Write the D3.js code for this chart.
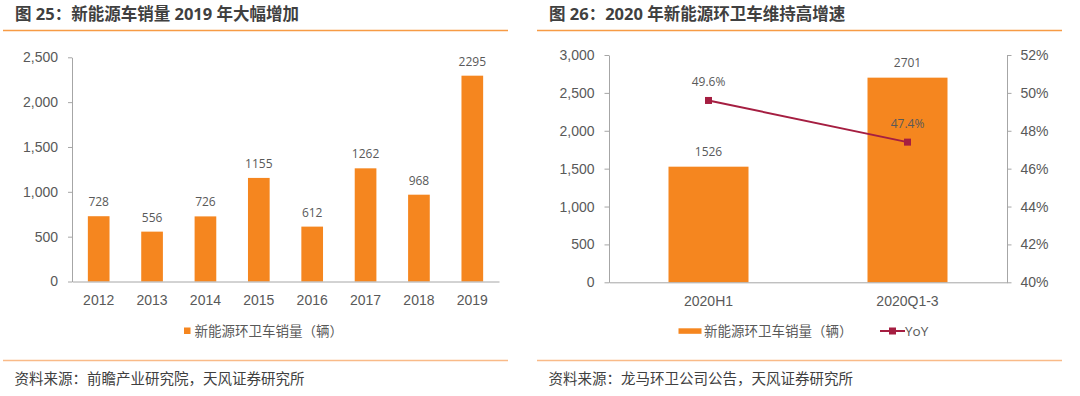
<!DOCTYPE html>
<html>
<head>
<meta charset="utf-8">
<script src="https://cdn.jsdelivr.net/npm/d3@7"></script>
<style>
  body { margin: 0; background: #fff; }
  svg { display: block; font-family: "Open Sans", "Noto Sans CJK SC", sans-serif; }
  .axis path, .axis line { stroke: #a6a6a6; }
  .axis text { fill: #595959; font-size: 14px; }
</style>
</head>
<body>
<div id="chart"></div>
<script>
// Chart 25 data
const years = ["2012", "2013", "2014", "2015", "2016", "2017", "2018", "2019"];
const sales = [728, 556, 726, 1155, 612, 1262, 968, 2295];
const leftTicks = [0, 500, 1000, 1500, 2000, 2500];

// Chart 26 data
const periods = ["2020H1", "2020Q1-3"];
const periodSales = [1526, 2701];
const yoy = [0.496, 0.474];
const salesTicks = [0, 500, 1000, 1500, 2000, 2500, 3000];
const yoyTicks = [0.40, 0.42, 0.44, 0.46, 0.48, 0.50, 0.52];

const width = 1080;
const height = 396;
const orange = "#f5861f";
const crimson = "#a51e41";

const svg = d3.select("#chart")
    .append("svg")
    .attr("width", width)
    .attr("height", height);

// Panel frame: title, orange rules, source note
function panel(x0, x1, title, source) {
    svg.append("text")
        .attr("x", x0 + 12)
        .attr("y", 20)
        .style("font-size", "16.5px")
        .style("font-weight", "bold")
        .style("fill", "#404040")
        .text(title);
    svg.append("line")
        .attr("x1", x0).attr("x2", x1)
        .attr("y1", 30.5).attr("y2", 30.5)
        .attr("stroke", "#f79b45").attr("stroke-width", 1.5);
    svg.append("line")
        .attr("x1", x0).attr("x2", x1)
        .attr("y1", 360.5).attr("y2", 360.5)
        .attr("stroke", "#f9ba88").attr("stroke-width", 1.5);
    svg.append("text")
        .attr("x", x0 + 11.5)
        .attr("y", 384)
        .style("font-size", "14.5px")
        .style("fill", "#404040")
        .text(source);
}

panel(3, 508, "图 25：新能源车销量 2019 年大幅增加", "资料来源：前瞻产业研究院，天风证券研究所");
panel(537, 1062, "图 26：2020 年新能源环卫车维持高增速", "资料来源：龙马环卫公司公告，天风证券研究所");

// ---------- Chart 25 ----------
const x1 = d3.scaleBand()
    .domain(years)
    .range([72, 499])
    .paddingInner(0.594)
    .paddingOuter(0.297);

const y1 = d3.scaleLinear()
    .domain([0, 2500])
    .range([281.5, 57.3]);

svg.append("g")
    .attr("class", "axis")
    .attr("transform", "translate(72,0)")
    .call(d3.axisLeft(y1).tickValues(leftTicks).tickFormat(d3.format(",")).tickSize(4).tickPadding(10).tickSizeOuter(0));

svg.selectAll(".bar25")
    .data(sales)
    .enter()
    .append("rect")
    .attr("class", "bar25")
    .attr("x", (d, i) => x1(years[i]))
    .attr("y", d => y1(d))
    .attr("width", x1.bandwidth())
    .attr("height", d => y1(0) - y1(d))
    .attr("fill", orange);

svg.append("g")
    .attr("class", "axis")
    .attr("transform", "translate(0,281.5)")
    .call(d3.axisBottom(x1).tickSize(0).tickPadding(14).tickSizeOuter(0));

svg.selectAll(".lab25")
    .data(sales)
    .enter()
    .append("text")
    .attr("class", "lab25")
    .attr("x", (d, i) => x1(years[i]) + x1.bandwidth() / 2)
    .attr("y", d => y1(d) - 10)
    .attr("text-anchor", "middle")
    .style("font-size", "12px")
    .style("fill", "#595959")
    .text(d => d);

// legend 25
svg.append("rect")
    .attr("x", 184).attr("y", 327.5)
    .attr("width", 6.5).attr("height", 6.5)
    .attr("fill", orange);
svg.append("text")
    .attr("x", 194.5).attr("y", 335.5)
    .style("font-size", "13.5px")
    .style("fill", "#595959")
    .text("新能源环卫车销量（辆）");

// ---------- Chart 26 ----------
const x2 = d3.scaleBand()
    .domain(periods)
    .range([609, 1007])
    .paddingInner(0.598)
    .paddingOuter(0.299);

const y2 = d3.scaleLinear()
    .domain([0, 3000])
    .range([282.3, 55]);

const y3 = d3.scaleLinear()
    .domain([0.40, 0.52])
    .range([282.3, 55]);

svg.append("g")
    .attr("class", "axis")
    .attr("transform", "translate(609,0)")
    .call(d3.axisLeft(y2).tickValues(salesTicks).tickFormat(d3.format(",")).tickSize(4.5).tickPadding(10).tickSizeOuter(0));

svg.append("g")
    .attr("class", "axis")
    .attr("transform", "translate(1007,0)")
    .call(d3.axisRight(y3).tickValues(yoyTicks).tickFormat(d3.format(".0%")).tickSize(4.5).tickPadding(9).tickSizeOuter(0));

svg.selectAll(".bar26")
    .data(periodSales)
    .enter()
    .append("rect")
    .attr("class", "bar26")
    .attr("x", (d, i) => x2(periods[i]))
    .attr("y", d => y2(d))
    .attr("width", x2.bandwidth())
    .attr("height", d => y2(0) - y2(d))
    .attr("fill", orange);

svg.append("g")
    .attr("class", "axis")
    .attr("transform", "translate(0,282.3)")
    .call(d3.axisBottom(x2).tickSize(0).tickPadding(14).tickSizeOuter(0));

svg.selectAll(".lab26")
    .data(periodSales)
    .enter()
    .append("text")
    .attr("class", "lab26")
    .attr("x", (d, i) => x2(periods[i]) + x2.bandwidth() / 2)
    .attr("y", d => y2(d) - 10.5)
    .attr("text-anchor", "middle")
    .style("font-size", "12px")
    .style("fill", "#595959")
    .text(d => d);

// YoY line
const cx = i => x2(periods[i]) + x2.bandwidth() / 2;
const line = d3.line()
    .x((d, i) => cx(i))
    .y(d => y3(d));

svg.append("path")
    .datum(yoy)
    .attr("d", line)
    .attr("fill", "none")
    .attr("stroke", crimson)
    .attr("stroke-width", 2);

svg.selectAll(".pt26")
    .data(yoy)
    .enter()
    .append("rect")
    .attr("class", "pt26")
    .attr("x", (d, i) => cx(i) - 3.5)
    .attr("y", d => y3(d) - 3.5)
    .attr("width", 7)
    .attr("height", 7)
    .attr("fill", crimson);

svg.selectAll(".yoylab")
    .data(yoy)
    .enter()
    .append("text")
    .attr("class", "yoylab")
    .attr("x", (d, i) => cx(i))
    .attr("y", d => y3(d) - 14)
    .attr("text-anchor", "middle")
    .style("font-size", "12px")
    .style("fill", "#595959")
    .text(d => d3.format(".1%")(d));

// legend 26
svg.append("rect")
    .attr("x", 678.5).attr("y", 328.3)
    .attr("width", 23).attr("height", 5.5)
    .attr("fill", orange);
svg.append("text")
    .attr("x", 704).attr("y", 336)
    .style("font-size", "13.5px")
    .style("fill", "#595959")
    .text("新能源环卫车销量（辆）");
svg.append("line")
    .attr("x1", 880).attr("x2", 905)
    .attr("y1", 331).attr("y2", 331)
    .attr("stroke", crimson).attr("stroke-width", 2);
svg.append("rect")
    .attr("x", 889).attr("y", 327.5)
    .attr("width", 7).attr("height", 7)
    .attr("fill", crimson);
svg.append("text")
    .attr("x", 905).attr("y", 336)
    .style("font-size", "13.5px")
    .style("fill", "#595959")
    .text("YoY");
</script>
</body>
</html>
